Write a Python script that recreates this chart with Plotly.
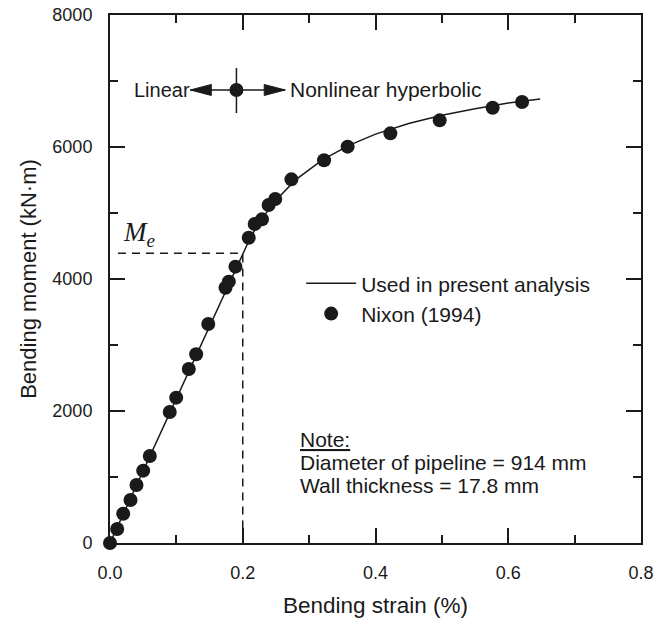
import plotly.graph_objects as go

# ---- data ----
nixon_strain = [0.0, 0.0108, 0.0199, 0.0309, 0.0399, 0.050, 0.060, 0.090, 0.0997,
                0.1187, 0.1298, 0.148, 0.174, 0.179, 0.189, 0.209, 0.218, 0.229,
                0.239, 0.249, 0.2733, 0.3225, 0.358, 0.4224, 0.4967, 0.5765, 0.6208]
nixon_moment = [0, 212, 444, 652, 879, 1096, 1318, 1985, 2202,
                2636, 2859, 3318, 3868, 3960, 4187, 4626, 4833, 4904,
                5121, 5212, 5510, 5800, 6005, 6207, 6404, 6595, 6682]

model_strain = [0.0, 0.2, 0.21, 0.22, 0.23, 0.25, 0.28, 0.32, 0.36, 0.40,
                0.45, 0.50, 0.55, 0.60, 0.648]
model_moment = [0, 4390, 4595, 4775, 4930, 5195, 5505, 5805, 6025, 6195,
                6355, 6480, 6580, 6665, 6727]

me_strain = 0.2
me_moment = 4390

boundary_strain = 0.1905
boundary_moment = 6864
boundary_tick = [6515, 7197]
arrow_left_tip = 0.121
arrow_right_tip = 0.264

x_ticks = [0.0, 0.2, 0.4, 0.6, 0.8]
y_ticks = [0, 2000, 4000, 6000, 8000]

note_lines = ["<u>Note:</u>", "Diameter of pipeline = 914 mm", "Wall thickness = 17.8 mm"]
note_y = [1570, 1222, 874]

# ---- layout geometry ----
W, H = 662, 620
L, R, T, B = 110, 21, 15, 77
XR = [0, 0.8]
YR = [0, 8000]
px_x = (W - L - R) / (XR[1] - XR[0])
px_y = (H - T - B) / (YR[1] - YR[0])

INK = "#1a1a1a"
FONT = "Liberation Sans, Arial, sans-serif"
TXT = 21

fig = go.Figure()

# dashed Me guide lines
fig.add_trace(go.Scatter(x=[0.012, me_strain, me_strain], y=[me_moment, me_moment, 0],
                         mode="lines", line=dict(color=INK, width=1.5, dash="8px,6px"),
                         showlegend=False, hoverinfo="skip"))

fig.add_trace(go.Scatter(x=model_strain, y=model_moment, mode="lines",
                         line=dict(color=INK, width=1.5),
                         name="Used in present analysis"))
fig.add_trace(go.Scatter(x=nixon_strain, y=nixon_moment, mode="markers",
                         marker=dict(color=INK, size=14),
                         name="Nixon (1994)", cliponaxis=False))

# boundary marker Linear / Nonlinear
fig.add_trace(go.Scatter(x=[boundary_strain, boundary_strain], y=boundary_tick, mode="lines",
                         line=dict(color=INK, width=1.5), showlegend=False, hoverinfo="skip"))
fig.add_trace(go.Scatter(x=[arrow_left_tip, arrow_right_tip], y=[boundary_moment, boundary_moment],
                         mode="lines", line=dict(color=INK, width=1.5), showlegend=False, hoverinfo="skip"))
fig.add_trace(go.Scatter(x=[boundary_strain], y=[boundary_moment], mode="markers",
                         marker=dict(color=INK, size=14), showlegend=False, hoverinfo="skip"))

# arrow heads (filled triangles, 21 px long, 11 px tall)
hl = 21 / px_x
hw = 5.5 / px_y
for tip, sgn in [(arrow_left_tip, 1), (arrow_right_tip, -1)]:
    base = tip + sgn * hl
    fig.add_trace(go.Scatter(x=[tip, base, base, tip],
                             y=[boundary_moment, boundary_moment + hw, boundary_moment - hw, boundary_moment],
                             mode="lines", fill="toself", fillcolor=INK,
                             line=dict(color=INK, width=1), showlegend=False, hoverinfo="skip"))

fig.add_annotation(x=arrow_left_tip, y=boundary_moment, text="Linear", showarrow=False,
                   xanchor="right", xshift=2, font=dict(size=20, family=FONT, color=INK))
fig.add_annotation(x=arrow_right_tip, y=boundary_moment, text="Nonlinear hyperbolic", showarrow=False,
                   xanchor="left", xshift=3, font=dict(size=TXT, family=FONT, color=INK))

fig.add_annotation(x=0.016, y=me_moment, text="<i>M<sub>e</sub></i>", showarrow=False,
                   xanchor="left", yanchor="bottom", yshift=0,
                   font=dict(size=27, family="Liberation Serif, Times New Roman, serif", color=INK))

for txt, yv in zip(note_lines, note_y):
    fig.add_annotation(x=0.288, y=yv, text=txt, showarrow=False, xanchor="left", yanchor="middle",
                       xshift=-3, font=dict(size=TXT, family=FONT, color=INK))

axis_common = dict(showline=True, linewidth=2, linecolor=INK, mirror="ticks",
                   ticks="inside", ticklen=15, tickwidth=1.5, tickcolor=INK,
                   showgrid=False, zeroline=False, automargin=False,
                   tickfont=dict(size=18, family=FONT, color=INK))

fig.update_xaxes(range=XR, tickvals=x_ticks, tickformat=".1f",
                 minor=dict(dtick=0.1, ticks="inside", ticklen=8, tickwidth=1.5, tickcolor=INK),
                 ticklabelstandoff=12,
                 title=dict(text="Bending strain (%)", font=dict(size=22.5, family=FONT, color=INK), standoff=16),
                 **axis_common)
fig.update_yaxes(range=YR, tickvals=y_ticks, tickformat="d",
                 minor=dict(dtick=1000, ticks="inside", ticklen=8, tickwidth=1.5, tickcolor=INK),
                 ticklabelstandoff=12,
                 title=dict(text="Bending moment (kN·m)", font=dict(size=22, family=FONT, color=INK), standoff=10),
                 **axis_common)

fig.update_layout(width=W, height=H, margin=dict(l=L, r=R, t=T, b=B, autoexpand=False),
                  plot_bgcolor="white", paper_bgcolor="white",
                  legend=dict(x=0.36, y=0.53, xanchor="left", yanchor="top",
                              bgcolor="rgba(0,0,0,0)", itemwidth=50, tracegroupgap=0,
                              font=dict(size=TXT, family=FONT, color=INK)))

fig.write_html("out.html")
